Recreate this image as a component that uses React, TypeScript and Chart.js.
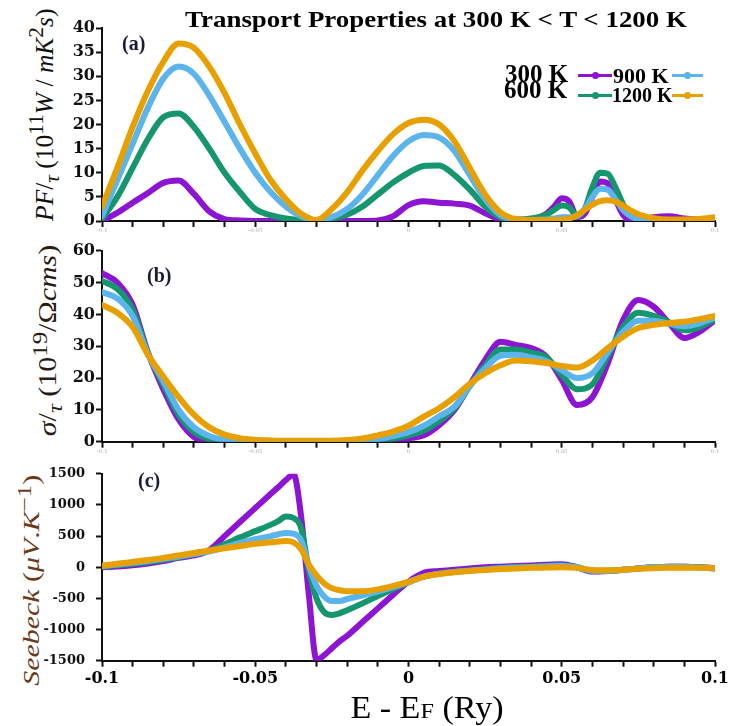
import React, { useEffect, useRef } from 'react';
import { Chart, registerables } from 'chart.js';

Chart.register(...registerables);

const TITLE = 'Transport Properties at 300 K < T < 1200 K';
const SERIES_LABELS = ['300 K', '600 K', '900 K', '1200 K'];
const SERIES_COLORS = ['#8C14D2', '#16966E', '#5BB4EB', '#E8A000'];
const X_TICK_LABELS = ['-0.1', '-0.05', '0', '0.05', '0.1'];

// ---------- Panel (a): PF / tau ----------
const energyA = [
  -0.1, -0.095, -0.09, -0.085, -0.08, -0.075, -0.07, -0.065, -0.06, -0.055,
  -0.05, -0.045, -0.04, -0.035, -0.03, -0.025, -0.02, -0.015, -0.01, -0.005,
  0, 0.005, 0.01, 0.015, 0.02, 0.025, 0.03, 0.035, 0.04, 0.045,
  0.0475, 0.05, 0.0525, 0.055, 0.0575, 0.06, 0.0625, 0.065, 0.0675, 0.07, 0.0725, 0.075,
  0.08, 0.085, 0.09, 0.095, 0.1,
];
const pf300 = [
  0, 1.7, 3.8, 5.8, 7.9, 8.4, 5.6, 2, 0.4, 0.1,
  0, 0, 0, 0, 0, 0, 0, 0, 0.1, 1,
  3.3, 4.1, 3.8, 3.6, 3.2, 1.6, 0.3, 0, 0.3, 1.5,
  3, 4.7, 4, 0.8, 1.5, 5, 8.2, 7.8, 4.5, 1.3, 0.2, 0.2,
  0.8, 1, 0.5, 0.3, 0.5,
];
const pf600 = [
  0.5, 5, 11, 17, 21.5, 22.3, 19.5, 15, 10, 6,
  2.5, 1.2, 0.5, 0.2, 0.2, 0.5, 1.3, 3, 5.5, 8,
  10, 11.4, 11.5, 9.5, 6.5, 3, 0.8, 0.3, 0.5, 1.3,
  2.3, 3.2, 2.8, 1, 2.5, 7, 10, 9.8, 7, 3.5, 1.2, 0.4,
  0.2, 0.2, 0.2, 0.3, 0.5,
];
const pf900 = [
  1, 8.5, 16, 23.5, 29.5, 32, 30.5, 26, 20.5, 15,
  10, 6, 3, 1, 0.2, 0.8, 2.5, 5.5, 9.5, 13.5,
  16.5, 17.8, 17.3, 14.5, 9.5, 4.5, 1.2, 0.3, 0.2, 0.3,
  0.5, 0.8, 0.8, 1, 2.5, 5, 6.7, 6.5, 4.5, 2.3, 1, 0.4,
  0.2, 0.2, 0.2, 0.3, 0.6,
];
const pf1200 = [
  3, 11, 19.5, 27, 33, 36.8, 35.9, 32, 26.5, 20,
  14, 8.5, 4.5, 1.5, 0.2, 2.5, 6, 10.5, 14.5, 18,
  20.3, 21, 20, 16.5, 11, 5.5, 1.8, 0.4, 0.2, 0.2,
  0.2, 0.3, 0.5, 1.2, 2.3, 3.4, 4.1, 4.3, 4, 3.2, 2.2, 1.4,
  0.6, 0.3, 0.3, 0.4, 0.8,
];

// ---------- Panel (b): sigma / tau ----------
const energyB = [
  -0.1, -0.095, -0.09, -0.085, -0.08, -0.075, -0.07, -0.065, -0.06, -0.055,
  -0.05, -0.045, -0.04, -0.035, -0.03, -0.025, -0.02, -0.015, -0.01, -0.005,
  0, 0.005, 0.01, 0.015, 0.02, 0.025, 0.03, 0.035, 0.04, 0.045,
  0.05, 0.055, 0.06, 0.065, 0.07, 0.075, 0.08, 0.085, 0.09, 0.095, 0.1,
];
const sigma300 = [
  53, 50, 43, 28, 16.5, 7, 1.5, 0.2, 0, 0,
  0, 0, 0, 0, 0, 0, 0, 0, 0.1, 0.3,
  1, 2, 5.2, 10, 17.8, 25.7, 31.4, 30.4, 29.4, 26.7,
  19.4, 11.5, 14, 24.6, 38.2, 44.5, 42.4, 37.3, 32.6, 34.6, 38.2,
];
const sigma600 = [
  50.5, 48, 41.5, 27.8, 18, 8.5, 3, 0.8, 0.2, 0,
  0, 0, 0, 0, 0, 0, 0, 0.1, 0.4, 1,
  2, 3.5, 6.5, 10.5, 17.5, 24, 29, 29, 28, 26.5,
  21, 16.5, 18, 27, 36, 40.5, 39.5, 37.5, 35, 36, 38.5,
];
const sigma900 = [
  47, 45, 39.5, 27.5, 19, 10, 4.5, 1.8, 0.6, 0.2,
  0.1, 0.05, 0.05, 0.05, 0.05, 0.05, 0.05, 0.3, 0.8, 1.8,
  3, 5, 8, 11, 17.5, 23, 27, 27.3, 26.5, 25.3,
  22.5, 20, 21.5, 28, 34.5, 38, 38, 37, 36.3, 37.2, 39,
];
const sigma1200 = [
  43, 40.5, 36, 27.3, 20.5, 14, 8.5, 4.5, 2.2, 1.1,
  0.6, 0.4, 0.3, 0.3, 0.3, 0.3, 0.5, 1, 2, 3.2,
  5, 7.9, 10.5, 14, 18.2, 21.5, 24, 25.5, 25.3, 24.7,
  23.8, 23.3, 25.5, 29.4, 33, 35.7, 36.7, 37.3, 37.7, 38.5, 39.5,
];

// ---------- Panel (c): Seebeck ----------
const energyC = [
  -0.1, -0.095, -0.09, -0.085, -0.08, -0.075, -0.07, -0.065, -0.06, -0.055, -0.05, -0.045,
  -0.0425, -0.04, -0.0375, -0.035, -0.0325, -0.03, -0.0275, -0.025, -0.0225, -0.02,
  -0.015, -0.01, -0.005, 0, 0.005, 0.01, 0.015, 0.02, 0.025, 0.03, 0.035, 0.04,
  0.045, 0.05, 0.055, 0.06, 0.065, 0.07, 0.075, 0.08, 0.085, 0.09, 0.095, 0.1,
];
const seebeck300 = [
  0, 10, 30, 60, 100, 150, 190, 275, 500, 725, 950, 1175,
  1285, 1400, 1490, 800, -450, -1490, -1410, -1300, -1190, -1100,
  -880, -660, -440, -230, -90, -60, -40, -20, 0, 10, 20, 30,
  40, 50, 0, -70, -60, -40, -20, 0, 10, 10, 0, -15,
];
const seebeck600 = [
  10, 30, 55, 85, 120, 160, 210, 265, 370, 480, 580, 680,
  740, 815, 790, 620, -50, -500, -720, -765, -740, -690,
  -580, -460, -350, -240, -150, -100, -70, -50, -30, -10, 0, 10,
  20, 30, 0, -60, -60, -40, -20, 0, 10, 10, 0, -20,
];
const seebeck900 = [
  20, 45, 70, 100, 135, 170, 210, 255, 320, 390, 450, 500,
  530, 550, 540, 430, 20, -300, -470, -540, -540, -510,
  -450, -390, -320, -240, -150, -105, -75, -55, -35, -15, -5, 5,
  15, 25, 0, -55, -55, -40, -20, 0, 5, 5, -5, -20,
];
const seebeck1200 = [
  25, 55, 85, 115, 150, 190, 230, 270, 305, 340, 375, 400,
  415, 420, 400, 290, 40, -130, -260, -335, -370, -385,
  -385, -355, -300, -235, -150, -110, -80, -60, -45, -30, -20, -10,
  -5, 0, -10, -45, -50, -40, -25, -15, -10, -10, -10, -15,
];

const TICK_FONT = 'DejaVu Serif';
const HTML_SERIF = "'Liberation Serif', 'Times New Roman', serif";

type PanelProps = {
  top: number;
  height: number;
  energy: number[];
  series: number[][];
  yMin: number;
  yMax: number;
  yStep: number;
  padTop: number;
  xAxisHeight: number;
  tickSize: number;
  yTickPad: number;
  bottom: boolean;
};

function xLabel(v: number): string {
  const r = Math.round(v * 100);
  if (r % 5 !== 0) return '';
  const found = X_TICK_LABELS.find((l) => Math.round(parseFloat(l) * 100) === r);
  return found ?? '';
}

function Panel(p: PanelProps) {
  const ref = useRef<HTMLCanvasElement | null>(null);
  useEffect(() => {
    if (!ref.current) return;
    const chart = new Chart(ref.current, {
      type: 'line',
      data: {
        datasets: p.series.map((vals, i) => ({
          label: SERIES_LABELS[i],
          data: p.energy.map((x, j) => ({ x, y: vals[j] })),
          borderColor: SERIES_COLORS[i],
          backgroundColor: SERIES_COLORS[i],
          borderWidth: 6,
          pointRadius: 0,
          cubicInterpolationMode: 'monotone' as const,
          borderCapStyle: 'round' as const,
          borderJoinStyle: 'round' as const,
          order: 4 - i,
          fill: false,
        })),
      },
      options: {
        responsive: false,
        animation: false,
        layout: { padding: { top: p.padTop, right: 19, left: 0, bottom: 0 } },
        plugins: { legend: { display: false }, tooltip: { enabled: false } },
        scales: {
          x: {
            type: 'linear',
            min: -0.1,
            max: 0.1,
            afterFit: (scale: any) => {
              scale.height = p.xAxisHeight;
            },
            ticks: {
              stepSize: 0.01,
              autoSkip: false,
              maxRotation: 0,
              padding: p.bottom ? 3 : 1,
              color: p.bottom ? '#000' : '#c8c8c8',
              font: { family: TICK_FONT, weight: 'bold', size: p.bottom ? 16 : 5 },
              callback: (v: any) => xLabel(Number(v)),
            },
            grid: {
              drawOnChartArea: false,
              drawTicks: true,
              tickLength: 6,
              tickColor: '#111',
              tickWidth: 2,
            },
            border: { display: true, color: '#111', width: 2 },
          },
          y: {
            type: 'linear',
            min: p.yMin,
            max: p.yMax,
            afterFit: (scale: any) => {
              scale.width = 102;
            },
            ticks: {
              stepSize: p.yStep,
              padding: p.yTickPad,
              color: '#111',
              font: { family: TICK_FONT, weight: 'bold', size: p.tickSize },
              callback: (v: any) => String(v),
            },
            grid: {
              drawOnChartArea: false,
              drawTicks: true,
              tickLength: 6,
              tickColor: '#111',
              tickWidth: 2,
            },
            border: { display: true, color: '#111', width: 2 },
          },
        },
      },
    } as any);
    return () => chart.destroy();
  }, []);
  return (
    <canvas
      ref={ref}
      width={734}
      height={p.height}
      style={{ position: 'absolute', left: 0, top: p.top, width: 734, height: p.height }}
    />
  );
}

function RotatedLabel(props: { cx: number; cy: number; len: number; size: number; stretch: number; color: string; children: React.ReactNode }) {
  const h = props.size * 1.5;
  return (
    <div
      style={{
        position: 'absolute',
        left: props.cx - props.len / 2,
        top: props.cy - h / 2,
        width: props.len,
        height: h,
        lineHeight: `${h}px`,
        textAlign: 'center',
        whiteSpace: 'nowrap',
        transform: `rotate(-90deg) scaleX(${props.stretch})`,
        fontFamily: HTML_SERIF,
        fontSize: props.size,
        color: props.color,
      }}
    >
      {props.children}
    </div>
  );
}

function LegendLine(props: { x: number; y: number; w: number; color: string }) {
  return (
    <>
      <div style={{ position: 'absolute', left: props.x, top: props.y - 1.5, width: props.w, height: 3, background: props.color }} />
      <div
        style={{
          position: 'absolute',
          left: props.x + props.w / 2 - 3.5,
          top: props.y - 3.5,
          width: 7,
          height: 7,
          borderRadius: '50%',
          background: props.color,
        }}
      />
    </>
  );
}

function Text(props: { left: number; baseline: number; size: number; bold?: boolean; color?: string; children: React.ReactNode }) {
  return (
    <div
      style={{
        position: 'absolute',
        left: props.left,
        top: props.baseline - 0.8375 * props.size,
        fontFamily: HTML_SERIF,
        fontSize: props.size,
        lineHeight: 1,
        fontWeight: props.bold ? 'bold' : 'normal',
        color: props.color ?? '#000',
        whiteSpace: 'nowrap',
      }}
    >
      {props.children}
    </div>
  );
}

export default function App() {
  return (
    <div style={{ position: 'absolute', left: 0, top: 0, width: 734, height: 726, background: '#fff', overflow: 'hidden' }}>
      {/* Y axis titles (behind the canvases' tick labels) */}
      <RotatedLabel cx={37} cy={115} len={260} size={25} stretch={1.02} color="#111">
        <i>PF</i>/<sub><i>τ</i></sub> (10<sup>11</sup><i>W</i> / <i>mK</i><sup>2</sup><i>s</i>)
      </RotatedLabel>
      <RotatedLabel cx={40} cy={340} len={240} size={26} stretch={1.15} color="#2a1a10">
        <i>σ</i>/<sub><i>τ</i></sub> (10<sup>19</sup>/Ω<i>cms</i>)
      </RotatedLabel>
      <RotatedLabel cx={25} cy={580} len={260} size={23} stretch={1.3} color="#6B3A1A">
        <i>Seebeck</i> (<i>μV</i>.<i>K</i><sup>−1</sup>)
      </RotatedLabel>

      <Panel top={0} height={235} energy={energyA} series={[pf300, pf600, pf900, pf1200]} yMin={0} yMax={40} yStep={5}
        padTop={28} xAxisHeight={14} tickSize={16} yTickPad={1} bottom={false} />
      <Panel top={235} height={220} energy={energyB} series={[sigma300, sigma600, sigma900, sigma1200]} yMin={0} yMax={60} yStep={10}
        padTop={15.7} xAxisHeight={13.3} tickSize={16} yTickPad={1} bottom={false} />
      <Panel top={455} height={240} energy={energyC} series={[seebeck300, seebeck600, seebeck900, seebeck1200]} yMin={-1500} yMax={1500} yStep={500}
        padTop={13} xAxisHeight={34.3} tickSize={13} yTickPad={11} bottom={true} />

      {/* Title */}
      <div
        style={{
          position: 'absolute',
          left: 436 - 300,
          top: 27 - 0.8375 * 23,
          width: 600,
          textAlign: 'center',
          fontFamily: HTML_SERIF,
          fontWeight: 'bold',
          fontSize: 23,
          lineHeight: 1,
          whiteSpace: 'nowrap',
          transform: 'scaleX(1.17)',
        }}
      >
        {TITLE}
      </div>

      {/* Legend */}
      <Text left={505} baseline={82} size={25} bold>{SERIES_LABELS[0]}</Text>
      <Text left={504} baseline={98} size={25} bold>{SERIES_LABELS[1]}</Text>
      <Text left={613} baseline={83} size={22} bold>{SERIES_LABELS[2]}</Text>
      <Text left={612} baseline={102} size={20} bold>{SERIES_LABELS[3]}</Text>
      <LegendLine x={578} y={75} w={34} color={SERIES_COLORS[0]} />
      <LegendLine x={578} y={95} w={34} color={SERIES_COLORS[1]} />
      <LegendLine x={672} y={75} w={31} color={SERIES_COLORS[2]} />
      <LegendLine x={672} y={95} w={31} color={SERIES_COLORS[3]} />

      {/* Panel labels */}
      <Text left={122} baseline={49.5} size={20} bold color="#1a1a3a">(a)</Text>
      <Text left={147} baseline={281.5} size={20} bold color="#1a1a3a">(b)</Text>
      <Text left={138} baseline={486.5} size={20} bold color="#1a1a3a">(c)</Text>

      {/* X axis title */}
      <div
        style={{
          position: 'absolute',
          left: 427 - 150,
          top: 718 - 0.8375 * 31,
          width: 300,
          textAlign: 'center',
          fontFamily: HTML_SERIF,
          fontSize: 31,
          lineHeight: 1,
          whiteSpace: 'nowrap',
          transform: 'scaleX(1.1)',
        }}
      >
        E - E<span style={{ fontSize: 22 }}>F</span> (Ry)
      </div>
    </div>
  );
}
